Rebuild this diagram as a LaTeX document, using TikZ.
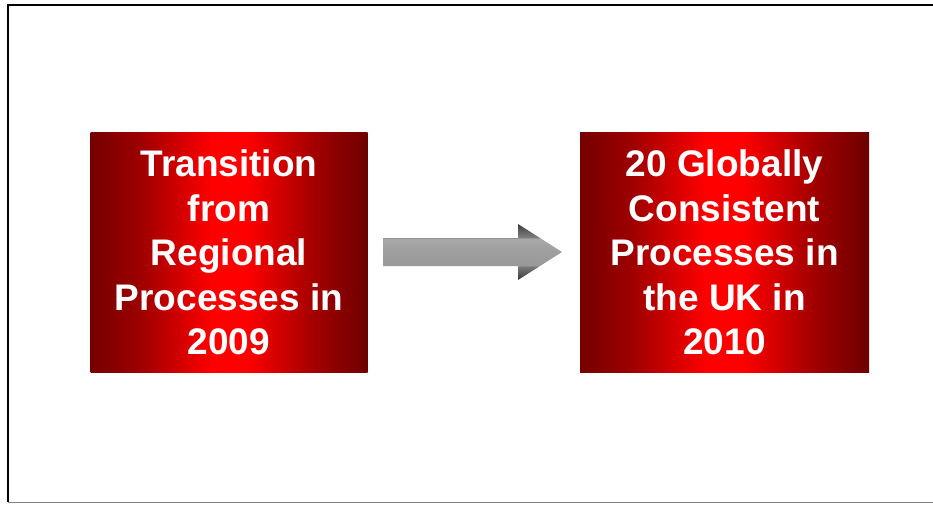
\documentclass[tikz,border=0pt]{standalone}
\usepackage{fontspec}
\setmainfont{Liberation Sans}
% grey of the block arrow: dark rims on the head, light body
\pgfdeclareverticalshading{arrowgrey}{100bp}{%
  color(0bp)=(black!78);
  color(25bp)=(black!78);
  color(37bp)=(black!52);
  color(38bp)=(black!40);
  color(50bp)=(black!38);
  color(62bp)=(black!34);
  color(63bp)=(black!50);
  color(75bp)=(black!76);
  color(100bp)=(black!76)}
% dark red at the sides, bright red in the middle
\pgfdeclarehorizontalshading{boxred}{100bp}{%
  color(0bp)=(red!46!black);
  color(25bp)=(red!46!black);
  color(34bp)=(red!62!black);
  color(47bp)=(red);
  color(53bp)=(red);
  color(66bp)=(red!62!black);
  color(75bp)=(red!43!black);
  color(100bp)=(red!43!black)}
\tikzset{
  redbox/.style={rectangle, inner sep=0pt, minimum width=277pt, minimum height=240pt,
    shading=boxred, text=white, font=\fontsize{37pt}{44.5pt}\selectfont\bfseries, align=center},
  frameline/.style={line width=1.8pt, black},
}
\begin{document}
\begin{tikzpicture}[x=1pt, y=-1pt]
  \useasboundingbox (0,0) rectangle (933,504);
  \fill[white] (0,0) rectangle (933,504);
  % slide frame
  \draw[frameline] (945,5) -- (8,5) -- (8,502);
  \draw[line width=1.5pt, black!50] (8,502.5) -- (945,502.5);
  % process boxes
  \node[redbox] (from) at (229,252.5) {Transition\\from\\Regional\\Processes in\\2009};
  \node[redbox, minimum width=289pt] (to) at (724.5,252.5) {20 Globally\\Consistent\\Processes in\\the UK in\\2010};
  % block arrow between the boxes
  \coordinate (tip) at (562,252);
  \shade[shading=arrowgrey] (383,238) -- (518,238) -- (518,224) -- (tip)
    -- (518,280) -- (518,266) -- (383,266) -- cycle;
\end{tikzpicture}
\end{document}
